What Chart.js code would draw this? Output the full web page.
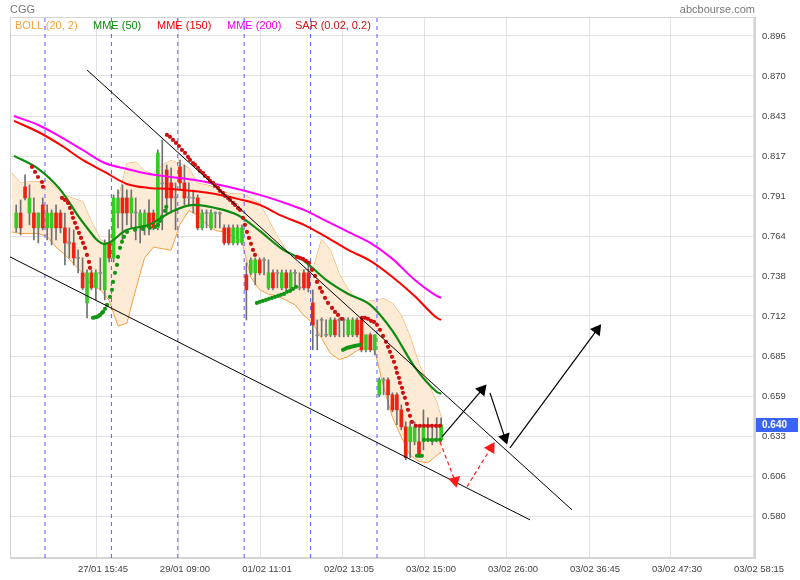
<!DOCTYPE html>
<html><head><meta charset="utf-8">
<script src="https://cdn.jsdelivr.net/npm/chart.js@4"></script>
<style>
body{margin:0;background:#fff;}
#wrap{position:relative;width:800px;height:580px;font-family:"Liberation Sans",Arial,sans-serif;}
canvas{position:absolute;left:0;top:0;}
.t{position:absolute;font-size:11px;white-space:nowrap;line-height:13px;}
</style></head><body>
<div id="wrap">
<canvas id="c" width="800" height="580"></canvas>
<div class="t" style="left:10px;top:3px;color:#777">CGG</div>
<div class="t" style="right:45px;top:3px;color:#777">abcbourse.com</div>
<div class="t" style="left:15px;top:19px;color:#f5a33e">BOLL (20, 2)</div>
<div class="t" style="left:93px;top:19px;color:#0a8a0a">MME (50)</div>
<div class="t" style="left:157px;top:19px;color:#ee0000">MME (150)</div>
<div class="t" style="left:227px;top:19px;color:#ee00ee">MME (200)</div>
<div class="t" style="left:295px;top:19px;color:#cc1111">SAR (0.02, 0.2)</div>
</div>
<script>
// ---- axes ----
const xTickPos = [18.25, 36.77, 55.30, 73.82, 92.35, 110.87, 129.40, 147.92, 166.45];
const xTickLabels = ['27/01 15:45','29/01 09:00','01/02 11:01','02/02 13:05','03/02 15:00','03/02 26:00','03/02 36:45','03/02 47:30','03/02 58:15'];
const yTicks = [0.580, 0.6063, 0.6327, 0.659, 0.6853, 0.7117, 0.738, 0.7643, 0.7907, 0.817, 0.8433, 0.8697, 0.896];
const dayBreaks = [6.5, 21.5, 36.5, 51.5, 66.5, 81.5];
const lastPrice = 0.640;

// ---- candles (one per period) ----
const opens = [0.7697,0.7795,0.7967,0.7795,0.7795,0.7697,0.7848,0.7697,0.7697,0.7795,
0.7795,0.7697,0.7591,0.7598,0.7499,0.7401,0.7203,0.7401,0.7302,0.7401,
0.7289,0.7598,0.7499,0.7795,0.7894,0.7894,0.7795,0.7795,0.7697,0.7697,
0.7795,0.7795,0.7697,0.7993,0.8078,0.7993,0.7894,0.8098,0.7993,0.7894,
0.7894,0.7894,0.7697,0.7795,0.7697,0.7795,0.7795,0.7697,0.7697,0.7598,
0.7598,0.7598,0.7388,0.7401,0.7401,0.7486,0.7486,0.7302,0.7401,0.7401,
0.7302,0.7401,0.7302,0.7401,0.7302,0.7401,0.7401,0.7203,0.6993,0.7091,
0.6993,0.6993,0.7091,0.7091,0.7091,0.6993,0.6993,0.7091,0.7091,0.6894,
0.6993,0.6894,0.6598,0.6697,0.6697,0.6598,0.6598,0.6499,0.6387,0.6289,
0.6289,0.6289,0.6289,0.6387,0.6289,0.6387,0.6302];
const highs = [0.7848,0.7881,0.8046,0.7980,0.7894,0.7795,0.7894,0.7848,0.7815,0.7848,
0.7815,0.7795,0.7697,0.7684,0.7552,0.7499,0.7420,0.7420,0.7420,0.7499,
0.7618,0.7684,0.7914,0.7947,0.7980,0.7947,0.7947,0.7894,0.7815,0.7815,
0.7881,0.7815,0.8210,0.8276,0.8111,0.8092,0.7993,0.8144,0.8111,0.7993,
0.7947,0.7914,0.7815,0.7815,0.7815,0.7802,0.7802,0.7717,0.7717,0.7717,
0.7717,0.7717,0.7466,0.7499,0.7499,0.7499,0.7499,0.7486,0.7420,0.7420,
0.7420,0.7420,0.7420,0.7420,0.7401,0.7420,0.7466,0.7289,0.7091,0.7105,
0.7091,0.7105,0.7105,0.7105,0.7105,0.7105,0.7105,0.7105,0.7105,0.6993,
0.7006,0.6993,0.6710,0.6710,0.6710,0.6611,0.6611,0.6532,0.6420,0.6420,
0.6420,0.6387,0.6499,0.6447,0.6401,0.6447,0.6447];
const lows = [0.7670,0.7651,0.7881,0.7717,0.7618,0.7598,0.7684,0.7618,0.7585,0.7618,
0.7664,0.7453,0.7499,0.7453,0.7401,0.7289,0.7105,0.7289,0.7223,0.7289,
0.7223,0.7473,0.7473,0.7697,0.7618,0.7717,0.7697,0.7618,0.7598,0.7651,
0.7651,0.7684,0.7684,0.7684,0.7782,0.7795,0.7684,0.7947,0.7848,0.7848,
0.7795,0.7684,0.7684,0.7697,0.7684,0.7697,0.7697,0.7585,0.7585,0.7585,
0.7585,0.7585,0.7091,0.7388,0.7322,0.7388,0.7388,0.7289,0.7289,0.7302,
0.7289,0.7289,0.7289,0.7302,0.7289,0.7289,0.7276,0.6894,0.6894,0.6980,
0.6980,0.6980,0.6980,0.6980,0.6980,0.6980,0.6980,0.6980,0.6881,0.6881,
0.6881,0.6861,0.6585,0.6598,0.6499,0.6486,0.6401,0.6368,0.6171,0.6184,
0.6269,0.6184,0.6236,0.6289,0.6269,0.6289,0.6289];
const closes = [0.7795,0.7697,0.7894,0.7894,0.7697,0.7795,0.7697,0.7795,0.7795,0.7697,
0.7697,0.7598,0.7605,0.7499,0.7496,0.7302,0.7401,0.7302,0.7401,0.7398,
0.7598,0.7499,0.7894,0.7894,0.7795,0.7795,0.7894,0.7802,0.7795,0.7795,
0.7697,0.7697,0.8190,0.7986,0.7894,0.7894,0.7901,0.7993,0.7894,0.7897,
0.7891,0.7697,0.7795,0.7792,0.7795,0.7792,0.7789,0.7598,0.7598,0.7697,
0.7697,0.7697,0.7289,0.7486,0.7486,0.7401,0.7483,0.7401,0.7302,0.7398,
0.7401,0.7302,0.7401,0.7398,0.7305,0.7302,0.7302,0.7059,0.6986,0.7088,
0.6990,0.7091,0.6993,0.7088,0.7088,0.7091,0.7091,0.6993,0.6894,0.6993,
0.6894,0.6993,0.6697,0.6694,0.6598,0.6499,0.6499,0.6387,0.6184,0.6387,
0.6387,0.6190,0.6387,0.6384,0.6292,0.6384,0.6401];

// ---- moving averages ----
const mmeIdx = [-0.5,5,10,15,20,25,30,35,40,45,50,55,60,65,70,75,80,85,90,95,96];
const mme200 = [0.8433,0.8374,0.8296,0.8210,0.8124,0.8085,0.8052,0.8032,0.8013,0.7986,0.7953,0.7914,0.7868,0.7815,0.7743,0.7670,0.7598,0.7493,0.7355,0.7249,0.7236];
const mme150 = [0.8401,0.8328,0.8243,0.8144,0.8065,0.7986,0.7960,0.7953,0.7940,0.7920,0.7888,0.7848,0.7776,0.7717,0.7638,0.7552,0.7480,0.7374,0.7249,0.7105,0.7091];
const mme50  = [0.8171,0.8085,0.7947,0.7736,0.7591,0.7684,0.7717,0.7802,0.7848,0.7828,0.7782,0.7677,0.7559,0.7480,0.7355,0.7262,0.7190,0.7019,0.6782,0.6618,0.6604];

// ---- Bollinger (20,2) ----
const bbIdx = [-1,1,3,5,7,9,11,13,15,17,19,21,23,25,27,29,31,33,35,37,39,41,43,45,47,49,51,53,55,57,59,61,63,65,67,69,71,73,75,77,79,81,83,85,87,89,91,93,95,96];
const bbUpper = [0.806,0.799,0.800,0.800,0.801,0.796,0.791,0.789,0.787,0.774,0.762,0.759,0.788,0.812,0.813,0.807,0.805,0.811,0.814,0.812,0.809,0.799,0.798,0.796,0.793,0.792,0.792,0.789,0.786,0.775,0.764,0.755,0.748,0.742,0.742,0.762,0.755,0.739,0.729,0.723,0.721,0.722,0.723,0.720,0.712,0.698,0.680,0.668,0.655,0.645];
const bbLower = [0.767,0.766,0.766,0.766,0.764,0.757,0.752,0.746,0.740,0.732,0.729,0.722,0.705,0.707,0.729,0.750,0.757,0.756,0.755,0.772,0.781,0.778,0.772,0.768,0.767,0.764,0.761,0.737,0.729,0.726,0.725,0.722,0.719,0.712,0.707,0.697,0.687,0.683,0.685,0.689,0.691,0.689,0.665,0.645,0.632,0.620,0.616,0.615,0.620,0.622];

// ---- Parabolic SAR ----
const sarRedIdx = [3.57,4.25,4.92,5.83,6.05,10.35,11.02,11.70,12.15,12.60,12.83,13.28,13.73,14.19,14.64,15.09,15.54,15.99,16.44,16.67,
34.06,34.74,35.42,36.10,36.77,37.45,38.13,38.81,39.26,39.94,40.39,41.07,41.52,42.20,42.65,43.33,43.78,44.46,44.91,45.59,46.04,46.72,47.17,47.85,48.30,48.98,49.43,50.11,50.56,51.23,51.68,52.13,52.58,53.04,53.49,53.94,
63.43,64.11,64.79,65.47,66.14,66.82,67.50,67.95,68.63,69.08,69.76,70.43,71.34,72.02,72.70,73.60,
78.12,78.79,79.47,80.15,80.83,81.50,82.18,82.86,83.54,83.99,84.44,84.89,85.34,85.79,86.02,86.47,86.69,87.15,87.37,87.82,88.27,88.50,88.95,89.40,
90.30,91.21,92.12,93.02,93.92,94.83,95.73];
const sarRedVal = [0.8098,0.8065,0.8032,0.7999,0.7967,0.7894,0.7881,0.7861,0.7828,0.7795,0.7763,0.7730,0.7697,0.7664,0.7631,0.7598,0.7565,0.7519,0.7473,0.7434,
0.8309,0.8296,0.8276,0.8256,0.8236,0.8210,0.8190,0.8164,0.8144,0.8124,0.8111,0.8092,0.8072,0.8059,0.8039,0.8026,0.8006,0.7993,0.7973,0.7960,0.7940,0.7927,0.7907,0.7894,0.7881,0.7861,0.7848,0.7828,0.7815,0.7763,0.7717,0.7670,0.7631,0.7592,0.7552,0.7519,
0.7506,0.7499,0.7493,0.7480,0.7466,0.7420,0.7381,0.7341,0.7302,0.7276,0.7236,0.7203,0.7170,0.7144,0.7124,0.7098,
0.7105,0.7105,0.7098,0.7085,0.7078,0.7059,0.7026,0.6986,0.6947,0.6914,0.6881,0.6848,0.6815,0.6776,0.6743,0.6710,0.6677,0.6644,0.6611,0.6578,0.6539,0.6499,0.6460,0.6420,
0.6394,0.6394,0.6394,0.6394,0.6394,0.6394,0.6394];
const sarGreenIdx = [17.35,17.80,18.25,18.70,18.93,19.39,19.61,20.06,20.51,21.19,21.64,21.87,22.32,22.77,23.00,23.45,23.90,24.35,25.03,26.83,28.64,30.22,31.35,32.02,32.48,32.93,33.61,33.90,
54.39,55.07,55.75,56.43,57.10,57.78,58.46,59.14,59.82,60.50,61.17,61.85,62.53,63.21,
73.83,74.28,74.73,75.18,75.63,76.09,76.54,77.10,77.67,
90.53,91.21,91.66,92.12,93.02,93.92,94.83,95.73];
const sarGreenVal = [0.7105,0.7108,0.7111,0.7118,0.7124,0.7137,0.7144,0.7164,0.7190,0.7243,0.7289,0.7341,0.7401,0.7453,0.7506,0.7565,0.7605,0.7638,0.7670,0.7684,0.7690,0.7697,0.7703,0.7717,0.7743,0.7769,0.7809,0.7835,
0.7203,0.7210,0.7217,0.7223,0.7230,0.7236,0.7243,0.7249,0.7256,0.7262,0.7276,0.7282,0.7295,0.7309,
0.6894,0.6900,0.6907,0.6910,0.6914,0.6917,0.6920,0.6924,0.6927,
0.6197,0.6197,0.6197,0.6302,0.6302,0.6302,0.6302,0.6302];

// ---- drawn trend lines & projection arrows ----
const trendUpperIdx = [16.01, 125.55], trendUpperVal = [0.8736, 0.5841];
const trendLowerIdx = [-1.40, 116.06], trendLowerVal = [0.7506, 0.5775];
const arrow1Idx = [96.18, 105.22], arrow1Val = [0.6322, 0.6631];
const arrow2Idx = [107.03, 110.41], arrow2Val = [0.6611, 0.6315];
const arrow3Idx = [111.54, 131.20], arrow3Val = [0.6249, 0.7026];
const redArrow1Idx = [95.73, 99.12], redArrow1Val = [0.6289, 0.6032];
const redArrow2Idx = [101.83, 107.25], redArrow2Val = [0.5993, 0.6249];

// ---- build ----
const Y_MIN = 0.5524, Y_MAX = 0.9085;
const pts = (xs, ys) => xs.map((x, k) => ({x: x, y: ys[k]}));
const GREEN = '#33cc22', RED = '#ee2211', GRAY = '#8a8a8a';
const bodyColors = closes.map((c, i) => c - opens[i] > 0.0015 ? GREEN : (opens[i] - c > 0.0015 ? RED : GRAY));

const datasets = [];
datasets.push({type:'line', data: pts(bbIdx, bbUpper), borderColor:'#f5a042', borderWidth:1, pointRadius:0, fill:false, order:100});
datasets.push({type:'line', data: pts(bbIdx, bbLower), borderColor:'#f5a042', borderWidth:1, pointRadius:0, fill:'-1', backgroundColor:'#fdebd6', order:99});
dayBreaks.forEach(d => datasets.push({type:'line', data:[{x:d,y:Y_MIN},{x:d,y:Y_MAX}], borderColor:'#5a5aff', borderWidth:1, borderDash:[4,4], pointRadius:0, order:95}));
datasets.push({type:'bar', data: opens.map((o, i) => ({x:i, y:[lows[i], highs[i]]})), backgroundColor:'#707070', barThickness:1, grouped:false, order:60});
datasets.push({type:'bar', data: opens.map((o, i) => ({x:i, y:[o, closes[i]]})), backgroundColor: bodyColors, barThickness:3, minBarLength:1, grouped:false, order:59});
datasets.push({type:'line', data: pts(mmeIdx, mme200), borderColor:'#ff00ff', borderWidth:2, pointRadius:0, cubicInterpolationMode:'monotone', order:40});
datasets.push({type:'line', data: pts(mmeIdx, mme150), borderColor:'#ff0000', borderWidth:2, pointRadius:0, cubicInterpolationMode:'monotone', order:39});
datasets.push({type:'line', data: pts(mmeIdx, mme50), borderColor:'#108a10', borderWidth:2.2, pointRadius:0, cubicInterpolationMode:'monotone', order:38});
datasets.push({type:'line', data: pts(sarRedIdx, sarRedVal), showLine:false, pointRadius:2.1, pointBorderWidth:0, pointBackgroundColor:'#d01010', order:30});
datasets.push({type:'line', data: pts(sarGreenIdx, sarGreenVal), showLine:false, pointRadius:2.1, pointBorderWidth:0, pointBackgroundColor:'#149614', order:30});
datasets.push({type:'line', data: pts(trendUpperIdx, trendUpperVal), borderColor:'#000', borderWidth:1, pointRadius:0, order:20});
datasets.push({type:'line', data: pts(trendLowerIdx, trendLowerVal), borderColor:'#000', borderWidth:1, pointRadius:0, order:20});
const arrow = (xs, ys, color, rot, dash) => ({type:'line', data: pts(xs, ys), borderColor:color, borderWidth:1.2, borderDash: dash || [],
  pointStyle:'triangle', pointRadius:[0,7], pointRotation:[0,rot], pointBackgroundColor:color, pointBorderColor:color, pointBorderWidth:0, order:10});
datasets.push(arrow(arrow1Idx, arrow1Val, '#000', 40.4));
datasets.push(arrow(arrow2Idx, arrow2Val, '#000', 161.6));
datasets.push(arrow(arrow3Idx, arrow3Val, '#000', 36.4));
datasets.push(arrow(redArrow1Idx, redArrow1Val, '#ff1a1a', 167, [4,3]));
datasets.push(arrow(redArrow2Idx, redArrow2Val, '#ff1a1a', 31.6, [4,3]));

const frame = {id:'frame', beforeDatasetsDraw(chart){
  const a = chart.chartArea, c = chart.ctx; c.save(); c.strokeStyle = '#d4d4d4'; c.lineWidth = 1;
  c.strokeRect(Math.round(a.left)+0.5, Math.round(a.top)+0.5, Math.round(a.right-a.left)-1, Math.round(a.bottom-a.top)-1); c.restore(); }};
const priceTag = {id:'priceTag', afterDraw(chart){
  const a = chart.chartArea, c = chart.ctx, py = Math.round(chart.scales.y.getPixelForValue(lastPrice));
  c.save(); c.fillStyle = '#3a64f8'; c.fillRect(a.right+1, py-7, 42, 14);
  c.fillStyle = '#fff'; c.font = 'bold 10px "Liberation Sans", Arial'; c.textBaseline = 'middle';
  c.fillText(lastPrice.toFixed(3), a.right+7, py+0.5); c.restore(); }};

new Chart(document.getElementById('c'), {
  type:'line',
  data:{datasets},
  plugins:[frame, priceTag],
  options:{
    responsive:false, animation:false, devicePixelRatio:1,
    layout:{padding:{top:17, left:10, right:0, bottom:0}},
    plugins:{legend:{display:false}, tooltip:{enabled:false}},
    scales:{
      x:{type:'linear', min:-1.40, max:166.9, offset:false,
        afterBuildTicks: s => { s.ticks = xTickPos.map(v => ({value:v})); },
        afterFit: s => { s.height = 22; },
        grid:{color:'#e2e2e2', drawTicks:false, offset:false},
        border:{display:true, color:'#d4d4d4'},
        ticks:{autoSkip:false, maxRotation:0, padding:6, labelOffset:6, color:'#444', font:{size:9.5, family:'"Liberation Sans", Arial'},
          callback:(v, i) => xTickLabels[i]}},
      y:{type:'linear', position:'right', min:Y_MIN, max:Y_MAX,
        afterBuildTicks: s => { s.ticks = yTicks.map(v => ({value:v})); },
        afterFit: s => { s.width = 45; },
        grid:{color:'#e2e2e2', drawTicks:false},
        border:{display:true, color:'#d4d4d4'},
        ticks:{padding:7, color:'#444', font:{size:9.5, family:'"Liberation Sans", Arial'}, callback: v => v.toFixed(3)}}
    }
  }
});
</script>
</body></html>
